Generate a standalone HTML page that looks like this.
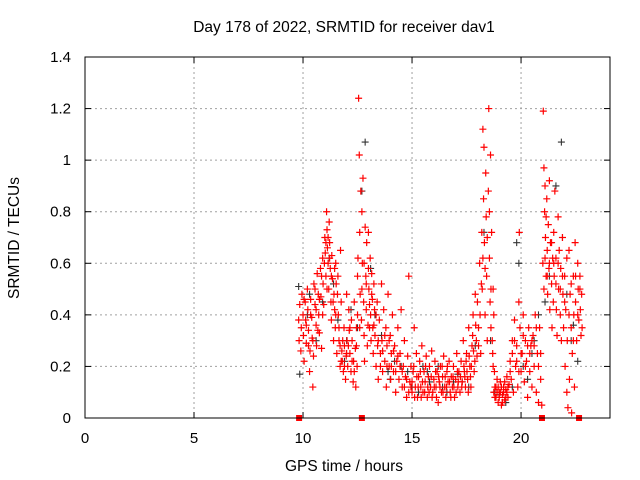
<!DOCTYPE html>
<html><head><meta charset="utf-8"><style>
body{margin:0;background:#fff}
svg{display:block;font-family:"Liberation Sans",sans-serif}
</style></head><body>
<svg id="c" width="640" height="480"></svg>
<script>
const redT=[9.8,9.82,9.85,9.9,9.92,9.95,10.0,10.02,10.05,10.1,10.12,10.15,10.2,10.22,10.25,10.3,10.32,10.35,10.4,10.42,10.45,10.48,
10.5,10.55,10.6,10.62,10.65,10.7,10.72,10.75,10.8,10.82,10.85,10.9,10.92,10.95,11.0,11.02,11.05,11.08,11.1,11.12,11.15,11.18,11.2,11.22,11.25,11.28,11.3,11.32,11.35,11.4,11.42,11.45,11.48,
11.5,11.52,11.55,11.6,11.62,11.65,11.7,11.72,11.75,11.78,11.8,11.85,11.88,11.9,11.95,11.98,
12.0,12.02,12.05,12.1,12.12,12.15,12.2,12.22,12.25,12.3,12.32,12.35,12.4,12.42,12.45,12.48,
12.5,12.52,12.55,12.58,12.6,12.62,12.65,12.68,12.7,12.72,12.75,12.78,12.8,12.82,12.85,12.88,12.9,12.92,12.95,12.98,13.0,13.02,13.05,13.08,13.1,13.12,13.15,13.18,13.2,13.22,13.25,13.28,
13.3,13.35,13.4,13.42,13.45,13.5,13.55,13.6,13.62,13.65,13.7,13.75,13.8,13.82,13.85,13.9,13.95,14.0,14.02,14.05,14.1,14.15,14.2,14.25,14.3,14.35,14.4,14.45,14.5,14.55,14.6,14.65,14.7,14.75,14.8,14.85,14.9,14.95,
15.0,15.05,15.1,15.15,15.2,15.25,15.3,15.35,15.4,15.45,15.5,15.55,15.6,15.65,15.7,15.75,15.8,15.85,15.9,15.95,16.0,16.05,16.1,16.15,16.2,16.25,16.3,16.35,16.4,16.45,16.5,16.55,16.6,16.65,16.7,16.75,16.8,16.85,16.9,16.95,17.0,17.05,17.1,17.15,17.2,17.25,17.3,17.35,17.4,17.45,
17.5,17.55,17.6,17.65,17.7,17.75,17.8,17.85,17.9,17.95,
18.0,18.05,18.1,18.15,18.2,18.22,18.25,18.28,18.3,18.32,18.35,18.38,18.4,18.42,18.45,18.5,18.52,18.55,18.58,18.6,18.62,18.65,18.7,18.72,18.75,18.78,
18.8,18.85,18.9,18.95,19.0,19.05,19.1,19.15,19.2,19.25,19.3,19.35,19.4,19.45,
19.5,19.55,19.6,19.65,19.7,19.75,19.8,19.85,19.9,19.92,19.95,20.0,20.05,20.1,20.15,20.2,20.25,20.3,20.35,20.4,20.45,
20.5,20.55,20.6,20.65,20.7,20.75,20.8,20.85,20.9,20.95,
21.0,21.02,21.05,21.08,21.1,21.12,21.15,21.18,21.2,21.22,21.25,21.28,21.3,21.32,21.35,21.4,21.42,21.45,21.48,
21.5,21.52,21.55,21.6,21.62,21.65,21.7,21.72,21.75,21.8,21.82,21.85,21.9,21.92,21.95,
22.0,22.02,22.05,22.1,22.12,22.15,22.2,22.22,22.25,22.3,22.32,22.35,22.4,22.42,22.45,22.48,
22.5,22.55,22.6,22.62,22.65,22.7,22.72,22.75,22.78,
10.05,10.15,10.25,10.35,10.45,10.55,10.6,10.68,10.75,10.85,10.9,10.98,11.05,11.1,11.15,11.22,11.3,11.38,11.45,11.5,11.58,11.65,11.7,11.75,11.82,11.9,12.0,12.08,12.15,12.25,12.35,12.45,12.5,12.6,12.7,12.8,12.9,13.0,13.05,13.15,13.25,13.35,13.45,13.55,13.65,13.75,13.85,13.95,14.05,14.15,14.25,14.35,14.45,14.55,14.65,14.75,14.85,14.95,
15.0,15.08,15.12,15.22,15.28,15.38,15.42,15.48,15.58,15.62,15.72,15.78,15.88,15.92,16.02,16.08,16.12,16.22,16.28,16.38,16.42,16.52,16.58,16.62,16.72,16.78,16.88,16.92,17.02,17.08,17.12,17.22,17.28,17.38,17.42,17.48,17.52,17.58,17.62,17.68,17.72,17.78,17.82,17.88,17.92,17.98,
18.05,18.12,18.18,18.25,18.35,18.45,18.55,18.62,18.68,18.72,18.75,18.8,18.85,18.9,18.95,19.0,19.05,19.1,19.15,19.2,19.25,19.3,19.35,19.4,
19.5,19.6,19.7,19.8,19.9,20.0,20.1,20.2,20.3,20.4,20.5,20.6,20.7,20.8,20.9,
21.05,21.1,21.15,21.2,21.3,21.4,21.5,21.6,21.7,21.8,21.9,22.0,22.1,22.2,22.3,22.4,22.5,22.6,22.7,22.8];
const redV=[.38,.30,.44,.26,.35,.48,.40,.32,.22,.45,.38,.29,.50,.42,.34,.18,.26,.46,.39,.31,.12,.24,
.52,.44,.36,.28,.56,.48,.40,.33,.58,.47,.27,.62,.52,.44,.70,.64,.55,.80,.73,.66,.60,.50,.76,.68,.58,.45,.38,.63,.54,.30,.48,.42,.35,
.60,.52,.25,.55,.40,.30,.20,.65,.45,.26,.22,.18,.35,.28,.15,.24,
.48,.30,.20,.42,.34,.25,.18,.38,.30,.14,.22,.45,.27,.12,.35,.20,
.55,.62,1.24,1.02,.72,.48,.88,.38,.80,.60,.93,.45,.32,.22,.74,.55,.42,.68,.28,.36,.72,.50,.44,.62,.40,.30,.56,.46,.35,.25,.52,.42,
.32,.20,.45,.28,.15,.38,.25,.52,.30,.18,.42,.22,.35,.12,.28,.48,.20,.32,.15,.25,.40,.18,.28,.10,.22,.35,.15,.25,.42,.12,.20,.30,.16,.08,.24,.55,.14,.20,
.10,.18,.35,.12,.25,.08,.16,.22,.12,.28,.10,.18,.14,.24,.08,.16,.20,.12,.26,.10,.15,.22,.12,.18,.06,.14,.20,.10,.16,.24,.12,.08,.18,.14,.22,.10,.16,.12,.20,.08,.15,.25,.12,.18,.10,.22,.14,.30,.18,.12,
.25,.15,.35,.20,.12,.28,.40,.18,.48,.30,
.45,.35,.60,.25,.72,.50,1.12,.85,1.05,.68,.40,.95,.78,.55,.30,.88,1.20,.62,.45,1.02,.35,.72,.25,.50,.40,.18,
.12,.08,.15,.06,.10,.14,.05,.09,.12,.07,.11,.16,.08,.13,
.22,.15,.30,.10,.38,.20,.28,.12,.45,.72,.35,.18,.25,.40,.14,.30,.22,.08,.35,.18,.28,
.12,.32,.20,.40,.10,.25,.06,.35,.15,.05,
.60,1.19,.97,.80,.90,.70,.55,.85,.65,.48,.75,.58,.92,.42,.68,.52,.35,.62,.45,
.72,.55,.88,.62,.42,.32,.78,.50,.65,.40,.58,.30,.70,.48,.35,
.55,.20,.42,.10,.30,.04,.65,.15,.48,.35,.02,.25,.55,.40,.12,.68,
.45,.30,.60,.50,.38,.55,.42,.32,.48,
.46,.36,.28,.40,.30,.50,.42,.34,.46,.55,.40,.60,.68,.50,.70,.62,.55,.45,.58,.40,.48,.35,.28,.22,.30,.20,.25,.28,.35,.22,.18,.28,.40,.35,.50,.60,.52,.58,.35,.48,.36,.40,.30,.20,.26,.32,.20,.30,.20,.26,.18,.24,.20,.18,.12,.15,.10,.12,
.14,.20,.08,.16,.12,.18,.08,.14,.10,.20,.12,.10,.16,.08,.12,.18,.08,.16,.12,.20,.10,.16,.12,.20,.14,.08,.16,.12,.10,.18,.14,.16,.12,.20,.16,.22,.18,.10,.24,.16,.20,.32,.26,.22,.36,.24,
.28,.40,.52,.62,.58,.70,.80,.50,.30,.20,.10,.08,.12,.10,.12,.08,.10,.12,.06,.10,.14,.08,.10,.12,
.18,.25,.30,.22,.18,.25,.32,.20,.28,.25,.30,.28,.35,.20,.25,
.50,.62,.78,.55,.60,.68,.60,.52,.60,.50,.55,.45,.62,.40,.52,.30,.55,.40,.50,.35];
const blackT=[9.8,9.85,10.3,11.2,11.6,12.2,12.7,12.85,13.1,13.6,14.2,14.8,15.3,15.8,16.2,16.6,17.1,17.6,18.3,18.6,19.0,19.8,19.9,20.3,20.8,21.1,21.6,21.85,22.1,22.4,10.6,11.9,13.9,15.5,16.9,19.3,20.6,22.6,
10.2,10.9,11.4,12.0,12.5,13.3,14.0,14.5,15.0,15.7,16.4,17.3,17.9,18.8,19.6,20.1,20.5,21.3,21.9,22.3];
const blackV=[.51,.17,.48,.62,.38,.42,.88,1.07,.58,.32,.22,.18,.10,.14,.20,.10,.17,.12,.72,.30,.09,.68,.60,.15,.40,.45,.90,1.07,.48,.36,.30,.22,.18,.20,.14,.06,.30,.22,
.40,.45,.52,.30,.35,.40,.15,.20,.12,.18,.12,.14,.28,.10,.12,.20,.25,.55,.70,.30];
const zeroT=[9.82,12.7,20.96,22.66];
const yTicks=[0,0.2,0.4,0.6,0.8,1,1.2,1.4];
const yLabels=["0","0.2","0.4","0.6","0.8","1","1.2","1.4"];
const xTicks=[0,5,10,15,20];
const xLabels=["0","5","10","15","20"];

const L=85,R=610,T=57,B=418;
const X=t=>L+(R-L)*t/24.08;
const Y=v=>B-(B-T)*v/1.4;
const svg=document.getElementById('c');
const NS='http://www.w3.org/2000/svg';
function mk(tag,a,p){const e=document.createElementNS(NS,tag);for(const k in a)e.setAttribute(k,a[k]);(p||svg).appendChild(e);return e;}

const grid=mk('g',{});


yTicks.forEach((v,i)=>{
  if(i>0&&i<yTicks.length-1) mk('line',{x1:L,x2:R,y1:Y(v),y2:Y(v),stroke:'#a0a0a0','stroke-dasharray':'2,3','stroke-width':1},grid);
  mk('line',{x1:L,x2:L+6,y1:Y(v),y2:Y(v),stroke:'#000'},grid);
  mk('line',{x1:R,x2:R-6,y1:Y(v),y2:Y(v),stroke:'#000'},grid);
  const t=mk('text',{x:71,y:Y(v)+5,'text-anchor':'end','font-size':15,fill:'#000'});
  t.textContent=yLabels[i];
  
  
});
xTicks.forEach((v,i)=>{
  if(i>0) mk('line',{x1:X(v),x2:X(v),y1:T,y2:B,stroke:'#a0a0a0','stroke-dasharray':'2,3','stroke-width':1},grid);
  mk('line',{x1:X(v),x2:X(v),y1:B,y2:B-6,stroke:'#000'},grid);
  mk('line',{x1:X(v),x2:X(v),y1:T,y2:T+6,stroke:'#000'},grid);
  const t=mk('text',{x:X(v),y:443,'text-anchor':'middle','font-size':15,fill:'#000'});
  t.textContent=xLabels[i];
  
  
});

const bg=mk('g',{stroke:'#333',"stroke-width":1.1});


blackT.forEach((t,i)=>{const x=X(t),y=Y(blackV[i]);mk('path',{d:`M${x-3.5},${y}h7M${x},${y-3.5}v7`},bg);});
const rg=mk('g',{stroke:'#ff0000',"stroke-width":1.2});


redT.forEach((t,i)=>{const x=X(t),y=Y(redV[i]);mk('path',{d:`M${x-3.5},${y}h7M${x},${y-3.5}v7`},rg);});
zeroT.forEach(t=>{const r=mk('rect',{x:X(t)-3,y:B-3,width:6,height:6,fill:'#ff0000'});
  
  });

const fr=mk('rect',{x:L,y:T,width:R-L,height:B-T,fill:'none',stroke:'#000','stroke-width':1});



const ti=mk('text',{x:344,y:32,'text-anchor':'middle','font-size':15.5,fill:'#000'});
ti.textContent='Day 178 of 2022, SRMTID for receiver dav1';


const xl=mk('text',{x:344,y:471,'text-anchor':'middle','font-size':15.5,fill:'#000'});
xl.textContent='GPS time / hours';


const yl=mk('text',{x:19,y:238,'text-anchor':'middle','font-size':15.5,fill:'#000',transform:'rotate(-90 19 238)'});
yl.textContent='SRMTID / TECUs';


</script>
</body></html>
